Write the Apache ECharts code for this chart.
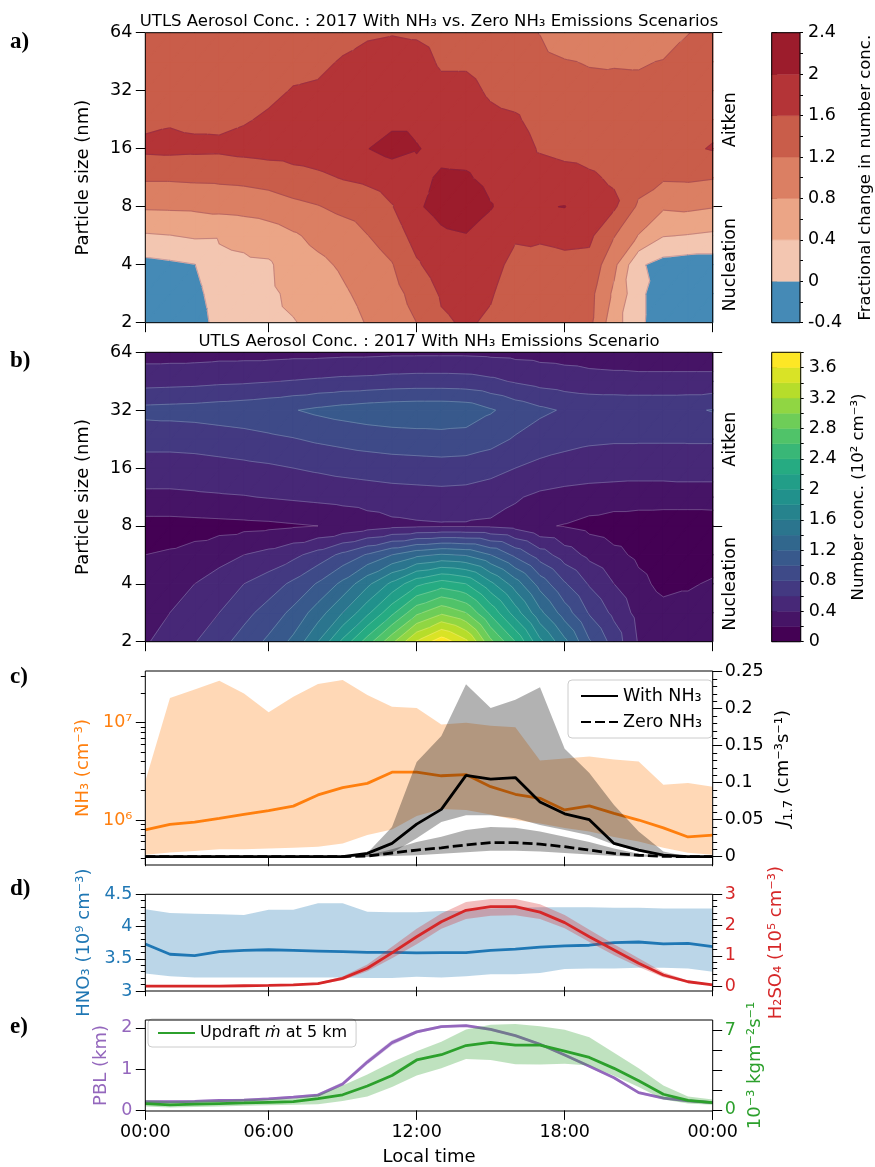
<!DOCTYPE html>
<html>
<head>
<meta charset="utf-8">
<script src="https://cdn.jsdelivr.net/npm/echarts@6/dist/echarts.min.js"></script>
<style>
html, body { margin: 0; padding: 0; background: #fff; }
#chart { width: 875px; height: 1167px; }
</style>
</head>
<body>
<div id="chart"></div>
<script>
// time axis: hourly points, ticks every 6 h
var timeTicks = [0, 5, 11, 17, 23];
var timeLabels = ['00:00', '06:00', '12:00', '18:00', '00:00'];

// particle size rows of the contour grids (nm)
var sizeRows = [2, 2.83, 4, 5.66, 8, 11.31, 16, 22.63, 32, 45.25, 64];

// a) fractional change, rows = sizeRows, columns = hour index
var fracLevels = [-0.4, 0, 0.4, 0.8, 1.2, 1.6, 2, 2.4];
var fracColors = ['#458ab6', '#f3c6b1', '#eba586', '#db7f63', '#c95d4a', '#b43437', '#9c1c2c'];
var fracChange = [
  [-0.35, -0.33, -0.2, 0.14, 0.22, 0.3, 0.38, 0.5, 0.66, 0.82, 0.95, 1.2, 1.55, 1.64, 1.55, 1.38, 1.3, 1.32, 1.3, 0.55, 0.12, -0.33, -0.37, -0.37],
  [-0.3, -0.28, -0.12, 0.2, 0.27, 0.33, 0.48, 0.6, 0.75, 0.9, 1.05, 1.35, 1.64, 1.72, 1.63, 1.42, 1.35, 1.38, 1.33, 0.72, 0.12, -0.3, -0.35, -0.35],
  [-0.12, -0.07, -0.01, 0.3, 0.33, 0.35, 0.6, 0.72, 0.85, 1.0, 1.18, 1.55, 1.8, 1.85, 1.72, 1.5, 1.45, 1.5, 1.48, 0.9, 0.06, -0.15, -0.2, -0.2],
  [0.36, 0.39, 0.45, 0.44, 0.5, 0.6, 0.75, 0.9, 1.0, 1.19, 1.38, 1.75, 1.93, 1.98, 1.85, 1.64, 1.66, 1.7, 1.68, 1.22, 0.78, 0.42, 0.38, 0.33],
  [0.85, 0.86, 0.87, 0.92, 0.95, 1.0, 1.1, 1.18, 1.3, 1.4, 1.58, 1.95, 2.12, 2.22, 2.02, 1.82, 1.97, 2.01, 1.72, 1.66, 1.13, 0.85, 0.88, 0.82],
  [1.25, 1.25, 1.27, 1.28, 1.3, 1.35, 1.45, 1.52, 1.62, 1.68, 1.78, 1.9, 2.05, 2.04, 1.9, 1.8, 1.75, 1.7, 1.64, 1.56, 1.38, 1.25, 1.26, 1.22],
  [1.68, 1.7, 1.68, 1.67, 1.72, 1.76, 1.78, 1.82, 1.9, 1.99, 2.12, 2.02, 1.9, 1.88, 1.8, 1.75, 1.57, 1.52, 1.5, 1.46, 1.42, 1.48, 1.55, 1.62],
  [1.52, 1.56, 1.52, 1.52, 1.57, 1.65, 1.72, 1.78, 1.82, 1.88, 1.92, 1.92, 1.8, 1.8, 1.68, 1.64, 1.48, 1.42, 1.38, 1.38, 1.38, 1.42, 1.5, 1.52],
  [1.46, 1.48, 1.47, 1.47, 1.48, 1.52, 1.62, 1.65, 1.75, 1.8, 1.85, 1.85, 1.7, 1.7, 1.55, 1.48, 1.4, 1.32, 1.28, 1.3, 1.3, 1.35, 1.42, 1.45],
  [1.44, 1.44, 1.44, 1.44, 1.44, 1.46, 1.5, 1.52, 1.63, 1.72, 1.76, 1.75, 1.55, 1.55, 1.45, 1.38, 1.3, 1.22, 1.18, 1.17, 1.16, 1.22, 1.32, 1.38],
  [1.42, 1.42, 1.42, 1.42, 1.42, 1.43, 1.44, 1.45, 1.48, 1.55, 1.58, 1.55, 1.45, 1.45, 1.38, 1.32, 1.19, 1.0, 0.95, 0.92, 0.9, 0.95, 1.19, 1.3]
];

// b) number concentration (10^2 cm^-3)
var concLevels = [0, 0.2, 0.4, 0.6, 0.8, 1, 1.2, 1.4, 1.6, 1.8, 2, 2.2, 2.4, 2.6, 2.8, 3, 3.2, 3.4, 3.6, 3.8];
var numConc = [
  [0.38, 0.48, 0.59, 0.73, 0.88, 1.04, 1.25, 1.6, 2.05, 2.5, 2.95, 3.42, 3.72, 3.45, 2.85, 2.4, 1.85, 1.45, 1.02, 0.72, 0.38, 0.3, 0.28, 0.28],
  [0.33, 0.4, 0.5, 0.6, 0.74, 0.88, 1.05, 1.3, 1.6, 1.95, 2.35, 2.75, 2.96, 2.8, 2.35, 1.9, 1.45, 1.1, 0.78, 0.55, 0.33, 0.26, 0.26, 0.27],
  [0.3, 0.33, 0.4, 0.5, 0.6, 0.7, 0.84, 1.02, 1.25, 1.55, 1.85, 2.15, 2.3, 2.2, 1.85, 1.5, 1.12, 0.82, 0.58, 0.4, 0.25, 0.15, 0.18, 0.22],
  [0.2, 0.22, 0.26, 0.32, 0.4, 0.46, 0.55, 0.68, 0.85, 1.02, 1.2, 1.35, 1.42, 1.38, 1.2, 0.95, 0.7, 0.5, 0.35, 0.25, 0.16, 0.1, 0.1, 0.12],
  [0.12, 0.12, 0.13, 0.14, 0.15, 0.16, 0.18, 0.2, 0.24, 0.3, 0.35, 0.37, 0.38, 0.38, 0.37, 0.33, 0.22, 0.19, 0.14, 0.1, 0.08, 0.07, 0.07, 0.08],
  [0.36, 0.36, 0.37, 0.38, 0.39, 0.41, 0.43, 0.45, 0.47, 0.49, 0.51, 0.52, 0.53, 0.52, 0.48, 0.42, 0.36, 0.33, 0.31, 0.3, 0.3, 0.3, 0.3, 0.3],
  [0.5, 0.5, 0.51, 0.53, 0.55, 0.57, 0.6, 0.63, 0.66, 0.68, 0.7, 0.71, 0.72, 0.71, 0.67, 0.6, 0.55, 0.52, 0.5, 0.49, 0.48, 0.48, 0.49, 0.49],
  [0.68, 0.68, 0.69, 0.71, 0.73, 0.76, 0.79, 0.83, 0.86, 0.89, 0.91, 0.92, 0.93, 0.92, 0.87, 0.78, 0.7, 0.66, 0.63, 0.62, 0.62, 0.62, 0.62, 0.62],
  [0.86, 0.87, 0.88, 0.9, 0.92, 0.95, 0.99, 1.04, 1.08, 1.11, 1.13, 1.14, 1.14, 1.12, 1.02, 0.92, 0.84, 0.78, 0.76, 0.76, 0.76, 0.76, 0.77, 0.81],
  [0.52, 0.53, 0.54, 0.56, 0.57, 0.59, 0.61, 0.63, 0.65, 0.66, 0.68, 0.69, 0.69, 0.68, 0.64, 0.58, 0.53, 0.5, 0.47, 0.46, 0.45, 0.45, 0.45, 0.45],
  [0.32, 0.32, 0.32, 0.33, 0.33, 0.33, 0.34, 0.34, 0.35, 0.35, 0.36, 0.36, 0.36, 0.36, 0.35, 0.34, 0.33, 0.32, 0.31, 0.3, 0.3, 0.3, 0.3, 0.3]
];

// c) NH3 (cm^-3) and J1.7
var nh3Mean = [7.9e5, 9.0e5, 9.5e5, 1.04e6, 1.14e6, 1.25e6, 1.39e6, 1.81e6, 2.15e6, 2.38e6, 3.1e6, 3.1e6, 2.85e6, 2.93e6, 2.2e6, 1.84e6, 1.67e6, 1.27e6, 1.4e6, 1.17e6, 1.0e6, 8.3e5, 6.7e5, 7.0e5];
var nh3Hi = [2.5e6, 1.8e7, 2.2e7, 2.7e7, 2.0e7, 1.28e7, 1.85e7, 2.5e7, 2.75e7, 1.93e7, 1.46e7, 1.42e7, 9.6e6, 1.0e7, 9.3e6, 9.0e6, 4.1e6, 4.3e6, 4.5e6, 4.2e6, 4.0e6, 2.3e6, 2.4e6, 2.2e6];
var nh3Lo = [4.4e5, 4.65e5, 4.8e5, 5.0e5, 5.0e5, 5.1e5, 5.2e5, 5.3e5, 5.75e5, 7.0e5, 8.0e5, 1.1e6, 1.3e6, 1.27e6, 1.14e6, 1.0e6, 9.2e5, 8.3e5, 7.6e5, 6.7e5, 6.0e5, 5.2e5, 4.6e5, 4.4e5];
var jWith = [0, 0, 0, 0, 0, 0, 0, 0, 0, 0.0045, 0.018, 0.044, 0.064, 0.11, 0.105, 0.107, 0.074, 0.058, 0.05, 0.018, 0.009, 0.002, 0, 0];
var jWithHi = [0, 0, 0, 0, 0, 0, 0, 0, 0, 0.005, 0.04, 0.128, 0.163, 0.233, 0.201, 0.212, 0.229, 0.146, 0.113, 0.07, 0.034, 0.007, 0, 0];
var jWithLo = [0, 0, 0, 0, 0, 0, 0, 0, 0, 0, 0.005, 0.025, 0.047, 0.056, 0.056, 0.052, 0.043, 0.036, 0.029, 0.016, 0.007, 0.001, 0, 0];
var jZero = [0, 0, 0, 0, 0, 0, 0, 0, 0, 0.001, 0.005, 0.009, 0.012, 0.016, 0.019, 0.019, 0.017, 0.0135, 0.009, 0.0045, 0.002, 0.0005, 0, 0];
var jZeroHi = [0, 0, 0, 0, 0, 0, 0, 0, 0, 0.002, 0.01, 0.02, 0.027, 0.036, 0.04, 0.039, 0.034, 0.027, 0.02, 0.011, 0.004, 0.001, 0, 0];
var jZeroLo = [0, 0, 0, 0, 0, 0, 0, 0, 0, 0, 0.001, 0.002, 0.004, 0.006, 0.008, 0.008, 0.007, 0.005, 0.003, 0.001, 0, 0, 0, 0];

// d) HNO3 (10^9 cm^-3) and H2SO4 (10^5 cm^-3)
var hno3 = [3.73, 3.57, 3.55, 3.61, 3.63, 3.64, 3.63, 3.62, 3.61, 3.6, 3.6, 3.59, 3.595, 3.595, 3.63, 3.65, 3.68, 3.7, 3.71, 3.75, 3.76, 3.73, 3.74, 3.69];
var hno3Hi = [4.27, 4.21, 4.2, 4.19, 4.18, 4.26, 4.26, 4.36, 4.36, 4.23, 4.22, 4.22, 4.24, 4.24, 4.28, 4.29, 4.3, 4.3, 4.3, 4.29, 4.29, 4.28, 4.28, 4.28];
var hno3Lo = [3.27, 3.23, 3.21, 3.21, 3.21, 3.21, 3.21, 3.21, 3.21, 3.2, 3.2, 3.22, 3.21, 3.23, 3.26, 3.26, 3.28, 3.34, 3.35, 3.35, 3.36, 3.36, 3.35, 3.3];
var h2so4 = [0.02, 0.02, 0.02, 0.02, 0.03, 0.04, 0.06, 0.1, 0.27, 0.6, 1.1, 1.62, 2.11, 2.48, 2.6, 2.6, 2.42, 2.08, 1.62, 1.19, 0.76, 0.38, 0.16, 0.06];
var h2so4Hi = [0.03, 0.03, 0.03, 0.03, 0.04, 0.05, 0.08, 0.13, 0.33, 0.72, 1.3, 1.88, 2.38, 2.75, 2.85, 2.85, 2.68, 2.33, 1.85, 1.38, 0.92, 0.47, 0.2, 0.08];
var h2so4Lo = [0.01, 0.01, 0.01, 0.01, 0.02, 0.03, 0.04, 0.07, 0.21, 0.5, 0.92, 1.38, 1.88, 2.2, 2.3, 2.32, 2.2, 1.9, 1.45, 1.02, 0.64, 0.31, 0.13, 0.05];

// e) PBL height (km) and updraft mass flux (10^-3 kg m^-2 s^-1)
var pbl = [0.21, 0.21, 0.22, 0.24, 0.25, 0.28, 0.32, 0.37, 0.64, 1.17, 1.64, 1.9, 2.03, 2.05, 1.96, 1.81, 1.6, 1.34, 1.07, 0.79, 0.43, 0.3, 0.23, 0.19];
var pblHi = [0.24, 0.24, 0.25, 0.27, 0.28, 0.31, 0.35, 0.41, 0.69, 1.23, 1.7, 1.94, 2.06, 2.08, 1.99, 1.84, 1.63, 1.37, 1.1, 0.82, 0.46, 0.33, 0.26, 0.22];
var pblLo = [0.18, 0.18, 0.19, 0.21, 0.22, 0.25, 0.29, 0.34, 0.6, 1.11, 1.58, 1.86, 2.0, 2.02, 1.93, 1.78, 1.57, 1.31, 1.04, 0.76, 0.4, 0.27, 0.2, 0.16];
var updraft = [0.55, 0.44, 0.5, 0.55, 0.6, 0.66, 0.72, 0.99, 1.32, 2.1, 3.02, 4.39, 4.85, 5.66, 5.93, 5.7, 5.7, 5.16, 4.61, 3.65, 2.55, 1.37, 0.82, 0.63];
var updraftHi = [0.85, 0.75, 0.8, 0.85, 0.9, 0.95, 1.0, 1.32, 2.14, 3.1, 4.2, 5.16, 5.99, 7.08, 7.5, 7.55, 7.36, 7.05, 6.4, 5.02, 3.65, 2.14, 1.18, 0.9];
var updraftLo = [0.3, 0.2, 0.25, 0.3, 0.35, 0.4, 0.45, 0.49, 0.77, 1.18, 2.0, 3.02, 3.65, 4.47, 4.39, 4.01, 3.98, 4.06, 3.9, 3.0, 2.0, 0.9, 0.55, 0.45];

var FONT = 'DejaVu Sans';
var C_ORANGE = '#ff7f0e', C_BLUE = '#1f77b4', C_RED = '#d62728', C_PURPLE = '#9467bd', C_GREEN = '#2ca02c';

var viridisStops = ['#440154', '#482475', '#414487', '#355f8d', '#2a788e', '#21918c', '#22a884', '#44bf70', '#7ad151', '#bddf26', '#fde725'];
var concColors = [];
for (var k = 0; k < concLevels.length - 1; k++) {
    concColors.push(echarts.color.lerp(k / (concLevels.length - 2), viridisStops));
}

function range(a, b, s) {
    var out = [];
    for (var v = a; v <= b + 1e-9; v += s) out.push(Math.round(v * 1000) / 1000);
    return out;
}

// ---- contour helpers (triangles, linear interpolation) ----
function clipPoly(pts, t, keepAbove) {
    var out = [];
    for (var k = 0; k < pts.length; k++) {
        var a = pts[k], b = pts[(k + 1) % pts.length];
        var ina = keepAbove ? a.v >= t : a.v <= t;
        var inb = keepAbove ? b.v >= t : b.v <= t;
        if (ina) out.push(a);
        if (ina !== inb) {
            var f = (t - a.v) / (b.v - a.v);
            out.push({x: a.x + f * (b.x - a.x), y: a.y + f * (b.y - a.y), v: t});
        }
    }
    return out;
}

function cellTris(api, Z, i, r) {
    var idx = [[i, r], [i + 1, r], [i + 1, r + 1], [i, r + 1]];
    var q = idx.map(function (c) {
        var p = api.coord([c[0], sizeRows[c[1]]]);
        return {x: p[0], y: p[1], v: Z[c[1]][c[0]]};
    });
    return [[q[0], q[1], q[2]], [q[0], q[2], q[3]]];
}

function contourSeries(Z, levels, colors, lineColor, xi, yi) {
    var cells = [];
    for (var r = 0; r < sizeRows.length - 1; r++) {
        for (var i = 0; i < Z[0].length - 1; i++) cells.push([i, sizeRows[r], r]);
    }
    var fill = {
        type: 'custom', xAxisIndex: xi, yAxisIndex: yi, z: 2, silent: true, clip: true,
        data: cells, encode: {x: 0, y: 1},
        renderItem: function (params, api) {
            var tris = cellTris(api, Z, api.value(0), api.value(2));
            var children = [];
            tris.forEach(function (t) {
                for (var k = 0; k < colors.length; k++) {
                    var poly = clipPoly(clipPoly(t, levels[k], true), levels[k + 1], false);
                    if (poly.length >= 3) {
                        children.push({
                            type: 'polygon',
                            shape: {points: poly.map(function (p) { return [p.x, p.y]; })},
                            style: {fill: colors[k], stroke: colors[k], lineWidth: 1.3, lineJoin: 'round'}
                        });
                    }
                }
            });
            return {type: 'group', children: children};
        }
    };
    var lines = {
        type: 'custom', xAxisIndex: xi, yAxisIndex: yi, z: 3, silent: true, clip: true,
        data: cells, encode: {x: 0, y: 1},
        renderItem: function (params, api) {
            var tris = cellTris(api, Z, api.value(0), api.value(2));
            var children = [];
            tris.forEach(function (t) {
                for (var l = 1; l < levels.length - 1; l++) {
                    var L = levels[l], pts = [];
                    for (var k = 0; k < 3; k++) {
                        var a = t[k], b = t[(k + 1) % 3];
                        if ((a.v >= L) !== (b.v >= L)) {
                            var f = (L - a.v) / (b.v - a.v);
                            pts.push([a.x + f * (b.x - a.x), a.y + f * (b.y - a.y)]);
                        }
                    }
                    if (pts.length === 2) {
                        children.push({
                            type: 'line',
                            shape: {x1: pts[0][0], y1: pts[0][1], x2: pts[1][0], y2: pts[1][1]},
                            style: {stroke: lineColor, lineWidth: 0.6}
                        });
                    }
                }
            });
            return {type: 'group', children: children};
        }
    };
    return [fill, lines];
}

function colorbarSeries(levels, colors, xi, yi) {
    return {
        type: 'custom', xAxisIndex: xi, yAxisIndex: yi, silent: true,
        data: colors.map(function (c, k) { return [0.5, levels[k], levels[k + 1], k]; }),
        encode: {x: 0, y: [1, 2]},
        renderItem: function (params, api) {
            var k = api.value(3);
            var a = api.coord([0, api.value(2)]), b = api.coord([1, api.value(1)]);
            return {
                type: 'rect',
                shape: {x: a[0], y: a[1], width: b[0] - a[0], height: b[1] - a[1]},
                style: {fill: colors[k], stroke: colors[k], lineWidth: 0.5}
            };
        }
    };
}

function bandSeries(lo, hi, color, xi, yi, z) {
    return {
        type: 'custom', xAxisIndex: xi, yAxisIndex: yi, z: z, silent: true, clip: true,
        data: lo.map(function (v, i) { return [i, v, hi[i]]; }),
        encode: {x: 0, y: [1, 2]},
        renderItem: function (params, api) {
            if (params.dataIndex !== 0) return;
            var pts = [], i;
            for (i = 0; i < hi.length; i++) pts.push(api.coord([i, hi[i]]));
            for (i = lo.length - 1; i >= 0; i--) pts.push(api.coord([i, lo[i]]));
            return {type: 'polygon', shape: {points: pts}, style: {fill: echarts.color.modifyAlpha(color, 0.3)}};
        }
    };
}

function lineSeries(name, vals, color, xi, yi, z, dashed) {
    return {
        type: 'line', name: name, xAxisIndex: xi, yAxisIndex: yi, z: z, silent: true,
        data: vals.map(function (v, i) { return [i, v]; }),
        symbol: 'none', showSymbol: false,
        lineStyle: {color: color, width: 2.8, type: dashed ? [10, 4] : 'solid'},
        itemStyle: {color: color}
    };
}

// ---- axis helpers ----
function ticks(vals, len) {
    return {show: true, customValues: vals, length: len || 9.5, lineStyle: {color: '#000', width: 1}};
}
function labels(vals, color, fmt, margin) {
    var o = {show: true, customValues: vals, fontSize: 17.5, fontFamily: FONT, color: color || '#000', margin: margin || 13};
    if (fmt) o.formatter = fmt;
    return o;
}
function axis(extra) {
    var ax = {
        axisLine: {show: false},
        splitLine: {show: false},
        axisTick: {show: false},
        axisLabel: {show: false}
    };
    for (var k in extra) ax[k] = extra[k];
    return ax;
}
function named(ax, name, gap, color, size) {
    ax.name = name;
    ax.nameLocation = 'middle';
    ax.nameRotate = 90;
    ax.nameGap = gap;
    ax.nameTextStyle = {fontSize: size || 18, fontFamily: FONT, color: color || '#000'};
    return ax;
}
function sup(v) {
    return v === 1e6 ? '10⁶' : '10⁷';
}

var gridBox = {show: true, z: 10, backgroundColor: 'transparent', borderColor: '#000', borderWidth: 1};
function grid(left, top, width, height) {
    var g = {left: left, top: top, width: width, height: height};
    for (var k in gridBox) g[k] = gridBox[k];
    return g;
}

var grids = [
    grid(145.3, 32.7, 567.4, 290),
    grid(145.3, 352.3, 567.4, 289.4),
    grid(145.3, 671, 567.4, 194),
    grid(145.3, 894.3, 567.4, 96.7),
    grid(145.3, 1020, 567.4, 97.3),
    grid(771.7, 32.7, 29, 290),
    grid(771.7, 352.3, 29, 289.4)
];

var xAxes = [];
for (var g = 0; g < 5; g++) {
    xAxes.push(axis({gridIndex: g, type: 'value', min: 0, max: 23, axisTick: ticks(timeTicks)}));
}
xAxes[4].axisLabel = labels(timeTicks, '#000', function (v) { return timeLabels[timeTicks.indexOf(v)]; }, 12);
xAxes[4].name = 'Local time';
xAxes[4].nameLocation = 'middle';
xAxes[4].nameGap = 37;
xAxes[4].nameTextStyle = {fontSize: 18, fontFamily: FONT, color: '#000'};
xAxes.push(axis({gridIndex: 5, type: 'value', min: 0, max: 1}));
xAxes.push(axis({gridIndex: 6, type: 'value', min: 0, max: 1}));

var sizeTicks = [2, 4, 8, 16, 32, 64];
var yAxes = [
    // 0,1 panel a
    named(axis({gridIndex: 0, type: 'log', logBase: 2, min: 2, max: 64, position: 'left',
        axisTick: ticks(sizeTicks), axisLabel: labels(sizeTicks)}), 'Particle size (nm)', 53),
    axis({gridIndex: 0, type: 'log', logBase: 2, min: 2, max: 64, position: 'right', axisTick: ticks([8, 64])}),
    // 2,3 panel b
    named(axis({gridIndex: 1, type: 'log', logBase: 2, min: 2, max: 64, position: 'left',
        axisTick: ticks(sizeTicks), axisLabel: labels(sizeTicks)}), 'Particle size (nm)', 53),
    axis({gridIndex: 1, type: 'log', logBase: 2, min: 2, max: 64, position: 'right', axisTick: ticks([8, 64])}),
    // 4,5 panel c NH3
    named(axis({gridIndex: 2, type: 'log', logBase: 10, min: 3.45e5, max: 3.4e7, position: 'left',
        axisTick: ticks([1e6, 1e7]), axisLabel: labels([1e6, 1e7], C_ORANGE, sup)}), 'NH₃ (cm⁻³)', 47, C_ORANGE),
    axis({gridIndex: 2, type: 'log', logBase: 10, min: 3.45e5, max: 3.4e7, position: 'left',
        axisTick: ticks([4e5, 5e5, 6e5, 7e5, 8e5, 9e5, 2e6, 3e6, 4e6, 5e6, 6e6, 7e6, 8e6, 9e6, 2e7, 3e7], 4.5)}),
    // 6,7 panel c J
    named(axis({gridIndex: 2, type: 'value', min: -0.0112, max: 0.251, position: 'right',
        axisTick: ticks([0, 0.05, 0.1, 0.15, 0.2, 0.25]), axisLabel: labels([0, 0.05, 0.1, 0.15, 0.2, 0.25], '#000', null, 12)}),
        '{j|J}{s|1.7} (cm⁻³s⁻¹)', 52),
    axis({gridIndex: 2, type: 'value', min: -0.0112, max: 0.251, position: 'right', axisTick: ticks(range(0, 0.25, 0.01), 4.5)}),
    // 8,9 panel d HNO3
    named(axis({gridIndex: 3, type: 'value', min: 3, max: 4.5, position: 'left',
        axisTick: ticks([3, 3.5, 4, 4.5]), axisLabel: labels([3, 3.5, 4, 4.5], C_BLUE)}), 'HNO₃ (10⁹ cm⁻³)', 41, C_BLUE),
    axis({gridIndex: 3, type: 'value', min: 3, max: 4.5, position: 'left', axisTick: ticks(range(3, 4.5, 0.1), 4.5)}),
    // 10,11 panel d H2SO4
    named(axis({gridIndex: 3, type: 'value', min: -0.14, max: 3, position: 'right',
        axisTick: ticks([0, 1, 2, 3]), axisLabel: labels([0, 1, 2, 3], C_RED, null, 12)}), 'H₂SO₄ (10⁵ cm⁻³)', 55, C_RED),
    axis({gridIndex: 3, type: 'value', min: -0.14, max: 3, position: 'right', axisTick: ticks(range(0, 3, 0.2), 4.5)}),
    // 12 panel e PBL
    named(axis({gridIndex: 4, type: 'value', min: -0.014, max: 2.188, position: 'left',
        axisTick: ticks([0, 1, 2]), axisLabel: labels([0, 1, 2], C_PURPLE)}), 'PBL (km)', 25, C_PURPLE),
    // 13 panel e updraft
    named(axis({gridIndex: 4, type: 'value', min: -0.107, max: 7.91, position: 'right',
        axisTick: ticks([0, 1.75, 3.5, 5.25, 7]), axisLabel: labels([0, 7], C_GREEN, null, 12)}), '10⁻³ kgm⁻²s⁻¹', 30, C_GREEN),
    // 14,15 colorbar a
    named(axis({gridIndex: 5, type: 'value', min: -0.4, max: 2.4, position: 'right',
        axisTick: ticks(fracLevels, 5.5), axisLabel: labels(fracLevels, '#000', null, 8)}), 'Fractional change in number conc.', 57, '#000', 16.5),
    axis({gridIndex: 5, type: 'value', min: -0.4, max: 2.4, position: 'right', axisTick: ticks(range(-0.4, 2.4, 0.2), 3)}),
    // 16,17 colorbar b
    named(axis({gridIndex: 6, type: 'value', min: 0, max: 3.8, position: 'right',
        axisTick: ticks(range(0, 3.6, 0.4), 5.5), axisLabel: labels(range(0, 3.6, 0.4), '#000', null, 8)}), 'Number conc. (10² cm⁻³)', 50, '#000', 16.5),
    axis({gridIndex: 6, type: 'value', min: 0, max: 3.8, position: 'right', axisTick: ticks(range(0, 3.8, 0.2), 3)})
];
yAxes[6].nameTextStyle.rich = {
    j: {fontStyle: 'italic', fontSize: 18, fontFamily: FONT},
    s: {fontSize: 13, fontFamily: FONT, verticalAlign: 'bottom', lineHeight: 24}
};

var series = []
    .concat(contourSeries(fracChange, fracLevels, fracColors, 'rgba(90,40,100,0.45)', 0, 0))
    .concat(contourSeries(numConc, concLevels, concColors, 'rgba(255,255,255,0.35)', 1, 2))
    .concat([
        colorbarSeries(fracLevels, fracColors, 5, 14),
        colorbarSeries(concLevels, concColors, 6, 16),
        bandSeries(nh3Lo, nh3Hi, C_ORANGE, 2, 4, 2),
        lineSeries('NH3', nh3Mean, C_ORANGE, 2, 4, 3),
        bandSeries(jWithLo, jWithHi, '#000000', 2, 6, 4),
        bandSeries(jZeroLo, jZeroHi, '#000000', 2, 6, 4),
        lineSeries('With NH₃', jWith, '#000', 2, 6, 5),
        lineSeries('Zero NH₃', jZero, '#000', 2, 6, 5, true),
        bandSeries(hno3Lo, hno3Hi, C_BLUE, 3, 8, 2),
        lineSeries('HNO3', hno3, C_BLUE, 3, 8, 3),
        bandSeries(h2so4Lo, h2so4Hi, C_RED, 3, 10, 4),
        lineSeries('H2SO4', h2so4, C_RED, 3, 10, 5),
        bandSeries(pblLo, pblHi, C_PURPLE, 4, 12, 2),
        lineSeries('PBL', pbl, C_PURPLE, 4, 12, 3),
        bandSeries(updraftLo, updraftHi, C_GREEN, 4, 13, 4),
        lineSeries('Updraft', updraft, C_GREEN, 4, 13, 5)
    ]);

var titleStyle = {fontSize: 16.5, fontWeight: 'normal', fontFamily: FONT, color: '#000'};
var legendBox = {
    orient: 'vertical', selectedMode: false,
    itemWidth: 37, itemHeight: 14,
    borderColor: '#cccccc', borderWidth: 1, borderRadius: 4, backgroundColor: 'rgba(255,255,255,0.8)',
    itemStyle: {opacity: 0}
};
var option = {
    animation: false,
    backgroundColor: '#fff',
    title: [
        {text: 'UTLS Aerosol Conc. : 2017 With NH₃ vs. Zero NH₃ Emissions Scenarios', left: 429, top: 13, textAlign: 'center', padding: 0, textStyle: titleStyle},
        {text: 'UTLS Aerosol Conc. : 2017 With NH₃ Emissions Scenario', left: 429, top: 333, textAlign: 'center', padding: 0, textStyle: titleStyle}
    ],
    legend: [
        Object.assign({}, legendBox, {
            left: 568, top: 680, itemGap: 8, padding: [7, 10, 7, 12],
            textStyle: {fontSize: 17.5, fontFamily: FONT, color: '#000'},
            data: ['With NH₃', 'Zero NH₃']
        }),
        Object.assign({}, legendBox, {
            left: 148, top: 1019, padding: [6, 9, 6, 9],
            textStyle: {fontSize: 16, fontFamily: FONT, color: '#000', rich: {i: {fontStyle: 'italic', fontSize: 16, fontFamily: FONT}}},
            formatter: function () { return 'Updraft {i|ṁ} at 5 km'; },
            data: ['Updraft']
        })
    ],
    grid: grids,
    xAxis: xAxes,
    yAxis: yAxes,
    series: series
};

var chart = echarts.init(document.getElementById('chart'));
chart.setOption(option);

// panel letters and size-mode labels
var graphics = [];
[['a)', 31], ['b)', 350], ['c)', 666], ['d)', 878], ['e)', 1016]].forEach(function (p) {
    graphics.push({type: 'text', left: 10, top: p[1], style: {text: p[0], font: 'bold 23px "Liberation Serif"', fill: '#000'}});
});
[1, 3].forEach(function (ai) {
    [['Nucleation', 4], ['Aitken', 22.63]].forEach(function (m) {
        var y = chart.convertToPixel({yAxisIndex: ai}, m[1]);
        graphics.push({
            type: 'text', x: 730.5, y: y, rotation: Math.PI / 2,
            style: {text: m[0], font: '17.5px "DejaVu Sans"', fill: '#000', align: 'center', verticalAlign: 'middle'}
        });
    });
});
chart.setOption({graphic: graphics});
</script>
</body>
</html>
